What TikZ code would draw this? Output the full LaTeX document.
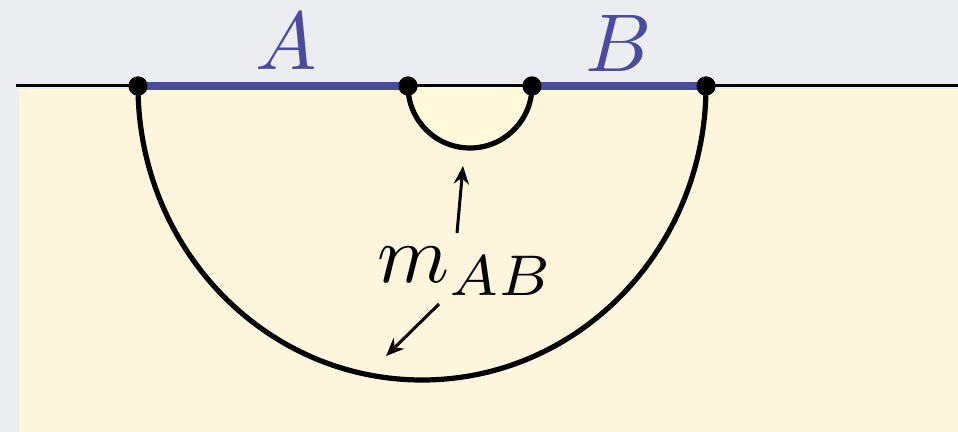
\documentclass[tikz,border=0pt]{standalone}
\usetikzlibrary{arrows.meta}
\definecolor{bggray}{HTML}{ECEDF0}
\definecolor{halfyellow}{HTML}{FDF6DC}
\definecolor{innery}{HTML}{FFFADC}
\definecolor{segblue}{HTML}{4A4A9E}
\tikzset{
  dot/.style={circle,fill=black,inner sep=0pt,minimum size=9.5pt},
  arcline/.style={line width=2.6pt,black},
  segline/.style={line width=4.2pt,segblue},
  ptr/.style={line width=1.5pt,-{Stealth[length=9pt,width=7.5pt]}},
  lbl/.style={scale=4.1,inner sep=0pt,anchor=base},
}
\begin{document}
\begin{tikzpicture}[x=0.5pt,y=-0.5pt]
\useasboundingbox (0,0) rectangle (958,432);
\fill[bggray] (0,0) rectangle (958,432);
\fill[halfyellow] (19,89) rectangle (958,432);
\fill[innery] (408,87) arc[start angle=180,end angle=0,radius=62] -- cycle;
\draw[line width=1.3pt] (16,85.5) -- (958,85.5);
\node[dot] (p1) at (138,86) {};
\node[dot] (p2) at (408,86) {};
\node[dot] (p3) at (532,86) {};
\node[dot] (p4) at (706,86) {};
\draw[segline] (p1.center) -- (p2.center);
\draw[segline] (p3.center) -- (p4.center);
\draw[arcline] (p1.center) arc[start angle=180,end angle=0,x radius=284,y radius=294];
\draw[arcline] (p2.center) arc[start angle=180,end angle=0,radius=62];
\node[dot] at (p1) {};
\node[dot] at (p2) {};
\node[dot] at (p3) {};
\node[dot] at (p4) {};
\node[lbl,text=segblue] (la) at (286,70) {$A$};
\node[lbl,text=segblue] (lb) at (619,72) {$B$};
\node[lbl] (m) at (466,283) {$m_{AB}$};
\coordinate (t1) at (457,233);
\coordinate (h1) at (463,166);
\coordinate (t2) at (439,304);
\coordinate (h2) at (386,356);
\draw[ptr] (t1) -- (h1);
\draw[ptr] (t2) -- (h2);
\end{tikzpicture}
\end{document}
